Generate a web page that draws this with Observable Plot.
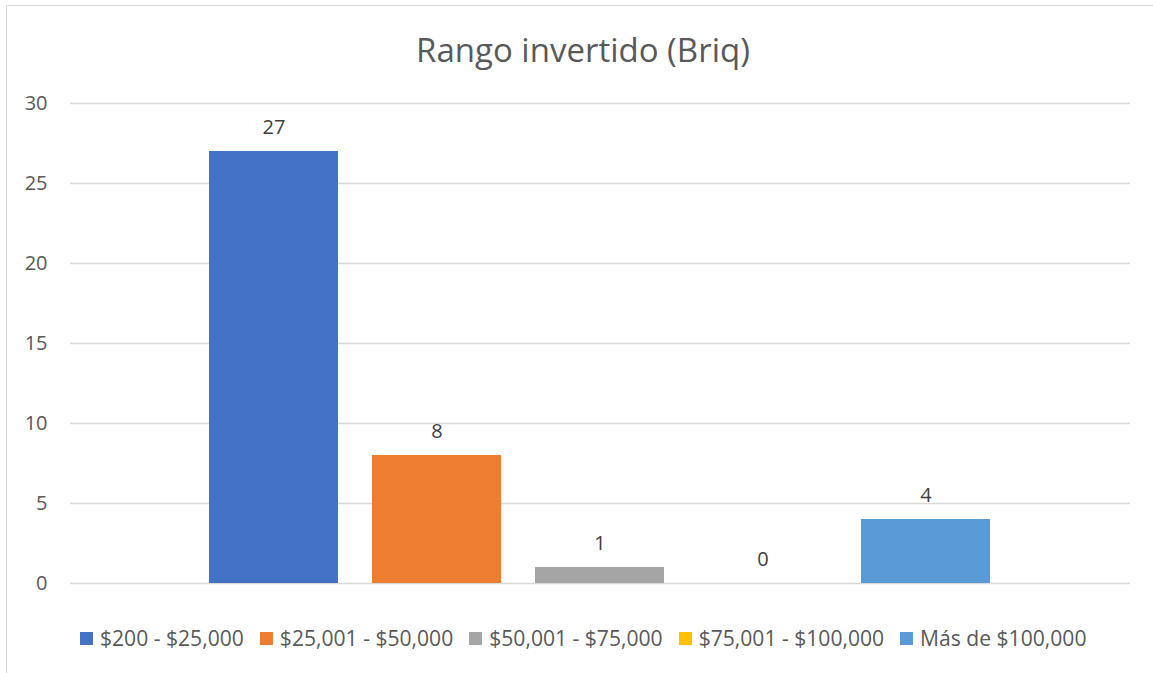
<!DOCTYPE html>
<html>
<head>
<meta charset="utf-8">
<script src="https://cdn.jsdelivr.net/npm/d3@7"></script>
<script src="https://cdn.jsdelivr.net/npm/@observablehq/plot@0.6"></script>
<style>
  html, body { margin: 0; padding: 0; background: #fff; overflow: hidden; }
  body { width: 1153px; height: 673px; position: relative; font-family: "Open Sans", sans-serif; color: #595959; }
  #frame { position: absolute; left: 6px; top: 5px; width: 1160px; height: 680px; border: 1px solid #d9d9d9; box-sizing: border-box; }
  #title { position: absolute; left: 0; top: 28px; width: 1166px; text-align: center; font-size: 33px; line-height: 44px; font-weight: 400; color: #595959; }
  #chart { position: absolute; left: 0; top: 85px; }
  #legend { position: absolute; left: 80px; top: 627px; display: flex; align-items: center; font-size: 21.1px; line-height: 22px; white-space: nowrap; color: #595959; }
  .item { display: flex; align-items: center; margin-right: 16px; }
  .sw { width: 13px; height: 13px; margin-right: 7px; flex: none; }
</style>
</head>
<body>
<div id="frame"></div>
<div id="title"></div>
<div id="chart"></div>
<div id="legend"></div>
<script>
const title = "Rango invertido (Briq)";
const categories = ["$200 - $25,000", "$25,001 - $50,000", "$50,001 - $75,000", "$75,001 - $100,000", "Más de $100,000"];
const values = [27, 8, 1, 0, 4];
const yTicks = [0, 5, 10, 15, 20, 25, 30];
const palette = ["#4472C4", "#ED7D31", "#A5A5A5", "#FFC000", "#5B9BD5"];

const data = categories.map((c, i) => ({category: c, value: values[i]}));

document.getElementById("title").textContent = title;

const chart = Plot.plot({
  width: 1153,
  height: 515,
  marginLeft: 70,
  marginRight: 23,
  marginTop: 18,
  marginBottom: 17,
  style: {fontFamily: "Open Sans, sans-serif", fontSize: "20px", color: "#595959", background: "transparent", overflow: "visible"},
  x: {domain: categories, range: [209, 990], paddingInner: 0.21, paddingOuter: 0, axis: null},
  y: {domain: [0, 30], ticks: yTicks, tickSize: 0, tickPadding: 23, label: null},
  color: {domain: categories, range: palette},
  marks: [
    Plot.ruleY(yTicks, {stroke: "#d9d9d9", strokeWidth: 1.3}),
    Plot.barY(data, {x: "category", y: "value", fill: "category"}),
    Plot.text(data, {x: "category", y: "value", text: d => String(d.value), dy: -24, lineAnchor: "middle", fill: "#404040", fontSize: 20}),
    Plot.axisY({ticks: yTicks, tickSize: 0, tickPadding: 23, fontSize: 20, fill: "#595959", label: null})
  ]
});
document.getElementById("chart").appendChild(chart);

const legend = document.getElementById("legend");
categories.forEach((c, i) => {
  const item = document.createElement("div");
  item.className = "item";
  const sw = document.createElement("span");
  sw.className = "sw";
  sw.style.background = palette[i];
  const label = document.createElement("span");
  label.textContent = c;
  item.appendChild(sw);
  item.appendChild(label);
  legend.appendChild(item);
});
</script>
</body>
</html>
